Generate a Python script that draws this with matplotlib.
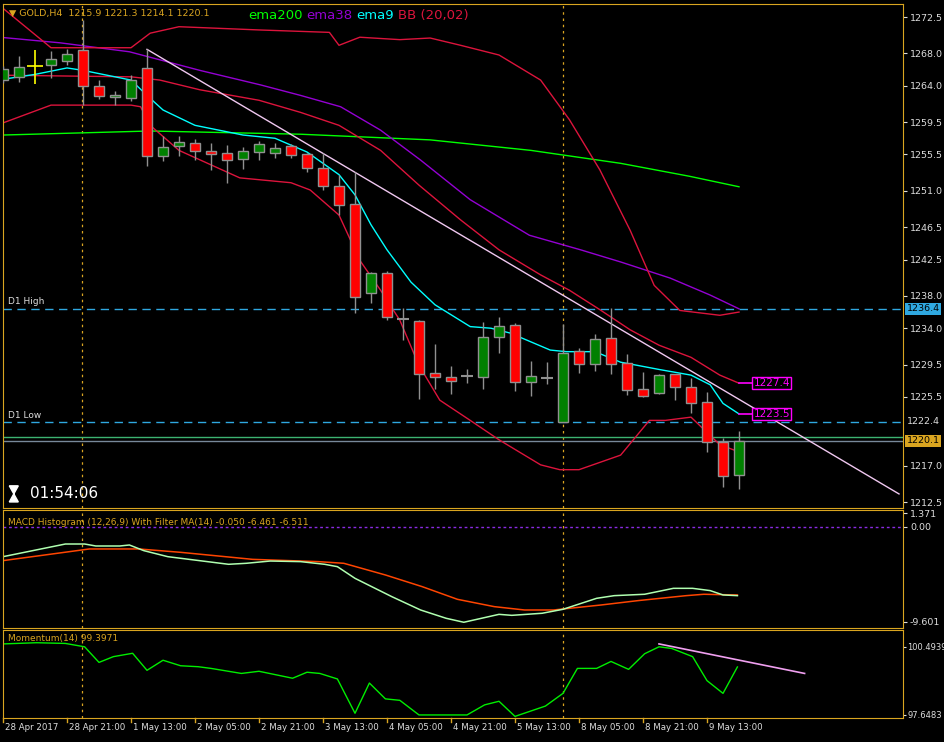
import numpy as np
import matplotlib.pyplot as plt
from matplotlib.patches import Polygon

# GOLD H4 candles: open, high, low, close (index = bar number)
opens = [1264.7, 1265.1, 1266.4, 1266.6, 1267.1, 1268.4, 1264.0, 1262.6, 1262.5, 1266.2,
         1255.3, 1256.5, 1256.9, 1255.9, 1255.7, 1254.9, 1255.8, 1255.7, 1256.5, 1255.5,
         1253.8, 1251.6, 1249.4, 1238.4, 1240.8, 1235.1, 1234.9, 1228.5, 1228.0, 1228.1,
         1228.0, 1232.9, 1234.4, 1227.3, 1227.8, 1222.4, 1231.2, 1229.6, 1232.8, 1229.7,
         1226.5, 1226.0, 1228.3, 1226.7, 1224.9, 1219.9, 1215.9]
highs = [1266.4, 1267.7, 1268.4, 1268.3, 1268.5, 1272.1, 1264.7, 1263.3, 1265.3, 1268.5,
         1257.8, 1257.8, 1257.4, 1256.9, 1256.7, 1256.4, 1257.2, 1256.9, 1256.8, 1255.7,
         1255.7, 1253.0, 1253.3, 1240.9, 1241.1, 1236.5, 1235.0, 1232.0, 1229.3, 1228.9,
         1234.8, 1235.4, 1234.6, 1229.9, 1229.8, 1234.5, 1231.5, 1233.3, 1236.5, 1230.8,
         1228.6, 1228.3, 1228.3, 1227.9, 1226.1, 1220.4, 1221.3]
lows = [1264.3, 1264.5, 1264.2, 1264.9, 1266.6, 1261.6, 1262.4, 1261.6, 1262.1, 1254.1,
        1254.7, 1255.3, 1254.8, 1253.6, 1252.0, 1253.7, 1254.8, 1255.1, 1255.1, 1253.3,
        1251.1, 1248.0, 1235.9, 1237.1, 1235.0, 1232.5, 1225.2, 1226.5, 1225.9, 1227.2,
        1226.5, 1230.9, 1226.2, 1225.6, 1227.1, 1222.4, 1228.5, 1228.7, 1228.3, 1225.7,
        1225.5, 1225.9, 1225.1, 1223.5, 1218.7, 1214.4, 1214.1]
closes = [1266.1, 1266.3, 1266.4, 1267.3, 1267.9, 1264.0, 1262.7, 1262.8, 1264.7, 1255.3,
          1256.4, 1257.0, 1255.9, 1255.5, 1254.8, 1255.9, 1256.8, 1256.3, 1255.4, 1253.8,
          1251.6, 1249.2, 1237.9, 1240.8, 1235.4, 1235.1, 1228.3, 1228.0, 1227.5, 1228.1,
          1232.9, 1234.3, 1227.3, 1228.1, 1227.8, 1230.9, 1229.6, 1232.7, 1229.6, 1226.4,
          1225.6, 1228.2, 1226.7, 1224.7, 1219.9, 1215.7, 1220.1]

# indicator lines: (bar index, value)
ema200 = [(0, 1257.9), (9.2, 1258.4), (18.6, 1258.0), (26.7, 1257.3), (33, 1256.0),
          (38.6, 1254.4), (42.9, 1252.8), (46, 1251.5)]
ema38 = [(-0.2, 1270.0), (3.6, 1269.3), (7.9, 1268.2), (12.3, 1265.9), (16.1, 1264.1),
         (18.6, 1262.8), (21.1, 1261.4), (23.6, 1258.5), (26.1, 1254.8), (29.2, 1249.9),
         (32.9, 1245.5), (36.1, 1243.7), (38.6, 1242.2), (41.7, 1240.2), (44.2, 1238.1),
         (46, 1236.4)]
ema9 = [(0, 1264.8), (2, 1265.4), (4, 1266.2), (5, 1265.9), (8, 1264.7), (9, 1262.8),
        (10, 1261.0), (12, 1259.1), (15, 1257.9), (17, 1257.5), (19, 1255.8), (21, 1253.0),
        (22, 1250.5), (23, 1246.8), (24, 1243.7), (25.5, 1239.7), (27, 1236.9), (29.2, 1234.2),
        (30.5, 1234.0), (31.7, 1233.4), (34.2, 1231.3), (35.2, 1231.1), (37, 1231.1),
        (38.6, 1229.8), (41, 1228.9), (43, 1228.2), (44.2, 1227.0), (45, 1224.7), (46, 1223.4)]
bb_up = [(-0.2, 1273.9), (3, 1268.7), (8, 1268.7), (9.2, 1270.5), (11, 1271.3), (16, 1270.9),
         (20.4, 1270.6), (21, 1269.0), (22.3, 1270.0), (24.8, 1269.7), (26.7, 1269.9),
         (28.6, 1269.0), (31, 1267.8), (33.6, 1264.7), (35.4, 1259.8), (37.3, 1253.6),
         (39.2, 1246.1), (40.7, 1239.3), (42.3, 1236.2), (44.8, 1235.6), (46, 1236.0)]
bb_mid = [(0, 1265.3), (8, 1265.1), (9.8, 1264.7), (12.3, 1263.5), (16, 1262.2), (18.6, 1260.7),
          (21, 1259.1), (23.6, 1256.0), (26, 1251.7), (28.6, 1247.4), (31, 1243.7),
          (33.6, 1240.6), (35.4, 1238.7), (37.3, 1236.3), (39.2, 1233.8), (41, 1231.9),
          (43, 1230.4), (44.8, 1228.2), (46, 1227.2)]
bb_low = [(0, 1259.4), (3, 1261.6), (8, 1261.6), (8.6, 1261.4), (9.2, 1259.1), (11, 1256.0),
          (14.8, 1252.6), (18, 1252.0), (19.2, 1251.1), (21, 1248.0), (22.3, 1242.4),
          (23.6, 1238.7), (24.8, 1235.0), (26, 1229.4), (27.3, 1225.1), (29.2, 1222.6),
          (31, 1220.2), (33.6, 1217.1), (34.8, 1216.5), (36, 1216.5), (38.6, 1218.3),
          (40.4, 1222.6), (41.4, 1222.6), (43, 1223.0), (44.8, 1219.6), (46, 1218.7)]
trend_main = [(9, 1268.5), (56, 1213.5)]

macd_main = [(0, -3.0), (3.9, -1.72), (5.1, -1.72), (5.8, -1.92), (7.3, -1.92), (7.9, -1.82),
             (8.8, -2.39), (10.3, -3.0), (14.1, -3.77), (15.2, -3.67), (16.7, -3.44),
             (18.6, -3.50), (20.1, -3.77), (20.9, -4.01), (22, -5.19), (24.3, -7.04),
             (26.1, -8.39), (27.7, -9.23), (28.8, -9.63), (29.9, -9.23), (31, -8.83),
             (31.8, -8.93), (33.7, -8.72), (35, -8.32), (37.1, -7.21), (38.2, -6.94),
             (40.1, -6.8), (41.9, -6.2), (43.1, -6.2), (44.2, -6.43), (45, -6.87), (45.9, -6.94)]
macd_signal = [(0, -3.4), (5.4, -2.22), (8.5, -2.22), (11.1, -2.56), (15.6, -3.27), (19.7, -3.5),
               (21.3, -3.67), (23.9, -4.85), (26.2, -6.03), (28.4, -7.31), (30.7, -8.05),
               (32.6, -8.39), (34.4, -8.39), (37.4, -7.88), (39.7, -7.44), (42.7, -6.94),
               (43.8, -6.8), (45.9, -6.87)]

momentum = [(0, 100.61), (2.1, 100.66), (3.9, 100.63), (5.1, 100.49), (6, 99.84), (6.9, 100.08),
            (8.1, 100.22), (9, 99.51), (10, 99.93), (11.1, 99.70), (12.2, 99.66), (13, 99.59),
            (14.9, 99.38), (16, 99.47), (18.1, 99.18), (19, 99.43), (19.8, 99.38), (20.9, 99.15),
            (22, 97.72), (22.9, 98.98), (23.9, 98.32), (24.8, 98.26), (26, 97.65), (29, 97.65),
            (30.1, 98.07), (31, 98.22), (32, 97.59), (33.9, 98.02), (35, 98.55), (35.9, 99.59),
            (37.1, 99.59), (38, 99.88), (39.1, 99.55), (40.1, 100.2), (41, 100.49), (41.8, 100.42),
            (43.1, 100.08), (44, 99.08), (45, 98.55), (45.9, 99.65)]
trend_mom = [(41, 100.61), (50.1, 99.38)]

price_ticks = [1272.5, 1268.0, 1264.0, 1259.5, 1255.5, 1251.0, 1246.5, 1242.5, 1238.0,
               1234.0, 1229.5, 1225.5, 1217.0, 1212.5]
date_labels = ["28 Apr 2017", "28 Apr 21:00", "1 May 13:00", "2 May 05:00", "2 May 21:00",
               "3 May 13:00", "4 May 05:00", "4 May 21:00", "5 May 13:00", "8 May 05:00",
               "8 May 21:00", "9 May 13:00"]

d1_high, d1_low, ask_line, bid = 1236.4, 1222.4, 1220.5, 1220.1

W, H = 944, 742
fig = plt.figure(figsize=(W / 100, H / 100), dpi=100, facecolor="black")
frame = "#DAA520"
txt = "#DDDDDD"
fs = 6.8


def add_ax(top, bottom):
    ax = fig.add_axes([3 / W, 1 - bottom / H, 900 / W, (bottom - top) / H], facecolor="black")
    ax.set_xlim(0, 56.25)
    for s in ax.spines.values():
        s.set_color(frame)
    ax.set_xticks([])
    ax.yaxis.tick_right()
    ax.tick_params(axis="y", colors=txt, labelsize=fs, length=3, pad=2)
    for v in (4.95, 35):
        ax.axvline(v, color=frame, ls=(0, (2, 3)), lw=0.9)
    return ax


def line(ax, pts, **kw):
    a = np.array(pts)
    ax.plot(a[:, 0], a[:, 1], **kw)


# ---- main price pane
ax = add_ax(4, 508)
ax.set_ylim(1211.76, 1274.11)
ax.set_yticks(price_ticks)
ax.set_yticklabels([f"{t:.1f}" for t in price_ticks])

ax.axhline(d1_high, color="#2FA8E0", ls=(0, (6, 4)), lw=1)
ax.axhline(d1_low, color="#2FA8E0", ls=(0, (6, 4)), lw=1)
ax.axhline(ask_line, color="#3CB371", lw=1)
ax.axhline(bid, color="#778899", lw=1)

line(ax, ema200, color="#00FF00", lw=1)
line(ax, ema38, color="#9400D3", lw=1)
line(ax, bb_up, color="#DC143C", lw=1)
line(ax, bb_mid, color="#DC143C", lw=1)
line(ax, bb_low, color="#DC143C", lw=1)
line(ax, ema9, color="#00FFFF", lw=1)
line(ax, trend_main, color="#F0C8F0", lw=1)

for i, (o, h, l, c) in enumerate(zip(opens, highs, lows, closes)):
    if i == 2:
        ax.vlines(i, l, h, color="yellow", lw=1.2, zorder=4)
        ax.hlines(o, i - 0.5, i + 0.5, color="yellow", lw=1.2, zorder=4)
        continue
    ax.vlines(i, l, h, color="#909090", lw=1, zorder=3)
    if abs(c - o) < 0.15:
        ax.hlines(o, i - 0.35, i + 0.35, color="#909090", lw=1.5, zorder=4)
    else:
        col = "#008000" if c > o else "#FF0000"
        ax.bar(i, c - o, bottom=o, width=0.62, color=col, edgecolor="#909090", lw=1, zorder=4)

ax.text(0.007, 0.99, "▼ GOLD,H4  1215.9 1221.3 1214.1 1220.1", transform=ax.transAxes,
        color=frame, fontsize=fs, va="top")
x0 = 0.273
for s, col, dx in [("ema200", "#00FF00", 0.064), ("ema38", "#9400D3", 0.056),
                   ("ema9", "#00FFFF", 0.046), ("BB (20,02)", "#DC143C", 0)]:
    ax.text(x0, 0.99, s, transform=ax.transAxes, color=col, fontsize=9.5, va="top")
    x0 += dx
ax.text(0.3, d1_high + 0.3, "D1 High", color=txt, fontsize=6.5, va="bottom")
ax.text(0.3, d1_low + 0.3, "D1 Low", color=txt, fontsize=6.5, va="bottom")
# hourglass symbol (no installed font has it)
hx, hy = 0.012, 0.028
ax.add_patch(Polygon([[hx - 0.005, hy + 0.016], [hx + 0.005, hy + 0.016], [hx, hy],
                      [hx + 0.005, hy - 0.016], [hx - 0.005, hy - 0.016], [hx, hy]],
                     closed=True, fc="white", ec="white", transform=ax.transAxes))
ax.text(0.03, hy, "01:54:06", transform=ax.transAxes, color="white", fontsize=11, va="center")

for v, lbl in [(bb_mid[-1][1], "1227.4"), (ema9[-1][1], "1223.5")]:
    ax.plot([46, 46.8], [v, v], color="#FF00FF", lw=1.2)
    ax.text(46.9, v, lbl, color="#FF00FF", fontsize=7.5, va="center",
            bbox=dict(boxstyle="square,pad=0.1", fc="black", ec="#FF00FF", lw=1))
for v, lbl, bg, fg in [(d1_high, "1236.4", "#2FA8E0", "black"), (d1_low, "1222.4", "black", txt),
                       (bid, "1220.1", frame, "black")]:
    ax.text(1.004, v, lbl, transform=ax.get_yaxis_transform(), color=fg, fontsize=fs,
            va="center", bbox=dict(boxstyle="square,pad=0.15", fc=bg, ec="none"))

# ---- MACD pane
am = add_ax(510, 628)
am.set_ylim(-10.21, 1.718)
am.set_yticks([1.371, 0.0, -9.601])
am.set_yticklabels(["1.371", "0.00", "-9.601"])
am.axhline(0, color="#8A2BE2", ls=(0, (2, 2)), lw=1)
line(am, macd_signal, color="#FF4500", lw=1.1)
line(am, macd_main, color="#B0FFB0", lw=1.1)
am.text(0.005, 0.93, "MACD Histogram (12,26,9) With Filter MA(14) -0.050 -6.461 -6.511",
        transform=am.transAxes, color=frame, fontsize=6.5, va="top")

# ---- Momentum pane
ap = add_ax(630, 718)
ap.set_ylim(97.523, 101.19)
ap.set_yticks([100.4939, 97.6483])
ap.set_yticklabels(["100.4939", "97.6483"], fontsize=6)
ap.tick_params(axis="y", pad=1, length=2)
line(ap, momentum, color="#00EE00", lw=1)
line(ap, trend_mom, color="#F0A0F0", lw=1.2)
ap.text(0.005, 0.95, "Momentum(14) 99.3971", transform=ap.transAxes, color=frame,
        fontsize=6.5, va="top")

# date labels
for k, lbl in enumerate(date_labels):
    i = 4 * k
    ap.text(i + 0.1, -0.06, lbl, transform=ap.get_xaxis_transform(), color=txt, fontsize=6.2,
            va="top", ha="left")
    ap.plot([i, i], [0, -0.05], transform=ap.get_xaxis_transform(), color=frame, lw=1,
            clip_on=False)

fig.savefig("out.png", dpi=100, facecolor="black")
